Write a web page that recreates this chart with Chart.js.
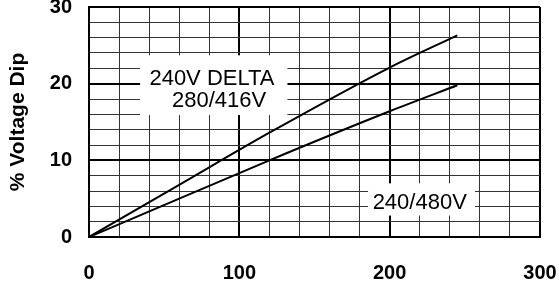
<!DOCTYPE html>
<html>
<head>
<meta charset="utf-8">
<script src="https://cdn.jsdelivr.net/npm/chart.js@4"></script>
<style>
  html, body { margin: 0; padding: 0; background: #fff; }
  #wrap { width: 559px; height: 285px; }
</style>
</head>
<body>
<div id="wrap"><canvas id="dipChart" width="559" height="285"></canvas></div>
<script>
// Curves (x = load, y = % voltage dip)
const upperX = [0, 60, 120, 200, 245];
const upperY = [0, 6.8, 13.6, 22.1, 26.3];
const lowerX = [0, 60, 120, 200, 245];
const lowerY = [0, 5.0, 10.0, 16.4, 19.8];

const xTickLabels = [0, 100, 200, 300];
const yTickLabels = [0, 10, 20, 30];
const curveNames = ['240V DELTA 280/416V', '240/480V'];
const boxTexts = [['240V DELTA', '280/416V'], ['240/480V']];

function toPoints(xs, ys) {
  return xs.map((x, i) => ({ x: x, y: ys[i] }));
}

// white label boxes sitting on the grid
const labelBoxes = {
  id: 'labelBoxes',
  beforeDatasetsDraw(chart) {
    const c = chart.ctx;
    const xs = chart.scales.x, ys = chart.scales.y;
    const boxes = [
      { x0: 34, x1: 132, y0: 15.9, y1: 23.7, lines: boxTexts[0], pos: [[81.8, 20.6], [86.5, 17.8]] },
      { x0: 185.6, x1: 256.8, y0: 2.8, y1: 7.0, lines: boxTexts[1], pos: [[220, 4.4]] }
    ];
    c.save();
    boxes.forEach(b => {
      const l = xs.getPixelForValue(b.x0), r = xs.getPixelForValue(b.x1);
      const t = ys.getPixelForValue(b.y1), btm = ys.getPixelForValue(b.y0);
      c.fillStyle = '#fff';
      c.fillRect(l, t, r - l, btm - t);
      c.fillStyle = '#000';
      c.font = '22px "Liberation Sans", Arial, sans-serif';
      c.textAlign = 'center';
      c.textBaseline = 'middle';
      b.lines.forEach((txt, i) => {
        c.fillText(txt, xs.getPixelForValue(b.pos[i][0]), ys.getPixelForValue(b.pos[i][1]));
      });
    });
    c.restore();
  }
};

const tickFont = { family: '"Liberation Sans", Arial, sans-serif', size: 20, weight: 'bold' };

new Chart(document.getElementById('dipChart'), {
  type: 'line',
  data: {
    datasets: [
      { label: curveNames[0], data: toPoints(upperX, upperY), borderColor: '#000', borderWidth: 2, pointRadius: 0, cubicInterpolationMode: 'monotone', fill: false },
      { label: curveNames[1], data: toPoints(lowerX, lowerY), borderColor: '#000', borderWidth: 2, pointRadius: 0, cubicInterpolationMode: 'monotone', fill: false }
    ]
  },
  options: {
    responsive: false,
    animation: false,
    layout: { padding: { top: 7, right: 19, left: 0, bottom: 0 } },
    plugins: { legend: { display: false }, tooltip: { enabled: false } },
    scales: {
      x: {
        type: 'linear',
        min: 0, max: 300,
        afterFit(s) { s.height = 48; s.paddingLeft = 0; s.paddingRight = 0; },
        border: { color: '#000', width: 2 },
        grid: {
          drawTicks: false,
          color: ctx => (ctx.tick.value % 100 === 0 ? '#000' : '#333'),
          lineWidth: ctx => (ctx.tick.value % 100 === 0 ? 2 : 1)
        },
        ticks: {
          stepSize: 20,
          autoSkip: false,
          maxRotation: 0,
          padding: 24,
          color: '#000',
          font: tickFont,
          callback: v => (xTickLabels.includes(v) ? String(v) : '')
        }
      },
      y: {
        min: 0, max: 30,
        afterFit(s) { s.width = 89; s.paddingTop = 0; s.paddingBottom = 0; },
        border: { color: '#000', width: 2 },
        grid: {
          drawTicks: false,
          color: ctx => (ctx.tick.value % 10 === 0 ? '#000' : '#333'),
          lineWidth: ctx => (ctx.tick.value % 10 === 0 ? 2 : 1)
        },
        title: {
          display: true,
          text: '% Voltage Dip',
          color: '#000',
          padding: { top: 6, bottom: 0 },
          font: { family: '"Liberation Sans", Arial, sans-serif', size: 21, weight: 'bold' }
        },
        ticks: {
          stepSize: 2,
          autoSkip: false,
          padding: 17,
          color: '#000',
          font: tickFont,
          callback: v => (yTickLabels.includes(v) ? String(v) : '')
        }
      }
    }
  },
  plugins: [labelBoxes]
});
</script>
</body>
</html>
